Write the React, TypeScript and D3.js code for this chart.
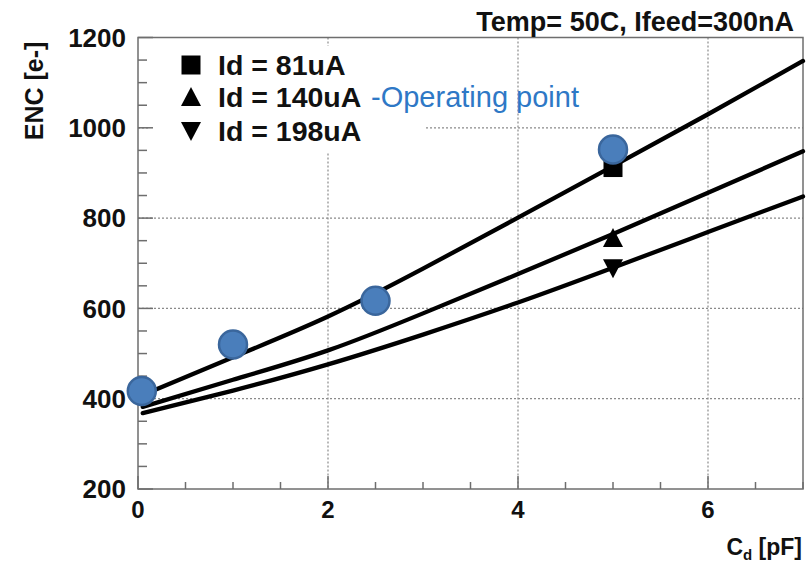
import React from "react";
import * as d3 from "d3";

// ---- data ----
const cdTicks = [0, 2, 4, 6];
const encTicks = [200, 400, 600, 800, 1000, 1200];
const seriesNames = ["Id = 81uA", "Id = 140uA", "Id = 198uA"];
const curveCd = [0.05, 1, 2, 3, 4, 5, 6, 7];
const curve81 = [408, 492, 582, 688, 801, 915, 1030, 1148];
const curve140 = [382, 442, 507, 589, 676, 765, 856, 948];
const curve198 = [368, 418, 476, 542, 613, 690, 769, 848];
const markerCd = [5, 5, 5];
const markerEnc = [912, 756, 689];
const opCd = [0.04, 1, 2.5, 5];
const opEnc = [417, 520, 617, 952];
const titleText = "Temp= 50C, Ifeed=300nA";
const opText = "-Operating point";

const FONT = "'Liberation Sans', Arial, Helvetica, sans-serif";

const x = d3.scaleLinear().domain([0, 7]).range([138, 803]);
const y = d3.scaleLinear().domain([200, 1200]).range([489, 37.5]);

const minorX = d3.range(0, 7.01, 0.5);
const minorY = d3.range(200, 1200.1, 50);

function markerPath(kind: number, cx: number, cy: number): string {
  const h = 10;
  if (kind === 0) return `M${cx - 9.5},${cy - 9.5}h19v19h-19Z`;
  if (kind === 1) return `M${cx - h},${cy + 9}L${cx + h},${cy + 9}L${cx},${cy - 10}Z`;
  return `M${cx - h},${cy - 9}L${cx + h},${cy - 9}L${cx},${cy + 10}Z`;
}

export default function App() {
  const curves = [curve81, curve140, curve198];
  const line = d3
    .line<number>()
    .x((_, i) => x(curveCd[i]))
    .y((d) => y(d))
    .curve(d3.curveNatural);
  const axisColor = "#6e6e6e";
  const gridColor = "#8a8a8a";
  const legendRows = [65, 97, 131];
  return (
    <svg
      width={807}
      height={567}
      style={{ position: "absolute", left: 0, top: 0, background: "#fff" }}
      fontFamily={FONT}
    >
      <rect x={0} y={0} width={807} height={567} fill="#fff" />
      {/* grid */}
      {cdTicks.filter((t) => t > 0).map((t) => (
        <line key={"gx" + t} x1={x(t)} x2={x(t)} y1={y(1200)} y2={y(200)} stroke={gridColor} strokeWidth={1.2} strokeDasharray="2,2" />
      ))}
      {encTicks.filter((t) => t > 200 && t < 1200).map((t) => (
        <line key={"gy" + t} x1={x(0)} x2={x(7)} y1={y(t)} y2={y(t)} stroke={gridColor} strokeWidth={1.2} strokeDasharray="2,2" />
      ))}
      {/* legend background */}
      <rect x={150} y={46} width={275} height={107} fill="#fff" />
      {/* ticks */}
      {minorX.map((t) => {
        const major = cdTicks.includes(t);
        return <line key={"tx" + t} x1={x(t)} x2={x(t)} y1={y(200)} y2={y(200) - (major ? 13 : 7)} stroke={axisColor} strokeWidth={1.5} />;
      })}
      {minorY.map((t) => {
        const major = encTicks.includes(t);
        return <line key={"ty" + t} x1={x(0)} x2={x(0) + (major ? 15 : 9)} y1={y(t)} y2={y(t)} stroke={axisColor} strokeWidth={1.5} />;
      })}
      {/* frame */}
      <rect x={x(0)} y={y(1200)} width={x(7) - x(0)} height={y(200) - y(1200)} fill="none" stroke={axisColor} strokeWidth={1.5} />
      {/* curves */}
      {curves.map((c, i) => (
        <path key={"c" + i} d={line(c) || ""} fill="none" stroke="#000" strokeWidth={4.3} strokeLinecap="round" />
      ))}
      {/* markers */}
      {markerCd.map((c, i) => (
        <path key={"m" + i} d={markerPath(i, x(c), y(markerEnc[i]))} fill="#000" />
      ))}
      {/* operating points */}
      {opCd.map((c, i) => (
        <circle key={"o" + i} cx={x(c)} cy={y(opEnc[i])} r={14} fill="#4a7ebb" stroke="#3a669c" strokeWidth={2.5} />
      ))}
      {/* legend */}
      {seriesNames.map((n, i) => (
        <g key={"l" + i}>
          <path d={markerPath(i, 191, legendRows[i])} fill="#000" />
          <text x={218} y={legendRows[i] + 10} fontSize={28.5} fontWeight="bold" fill="#111">{n}</text>
        </g>
      ))}
      <text x={371} y={legendRows[1] + 10} fontSize={29} fill="#2e78c6">{opText}</text>
      {/* title */}
      <text x={794} y={31} fontSize={27} fontWeight="bold" textAnchor="end" fill="#111">{titleText}</text>
      {/* tick labels */}
      {encTicks.map((t) => (
        <text key={"ly" + t} x={126} y={y(t) + 9.3} fontSize={26} fontWeight="bold" textAnchor="end" fill="#111">{t}</text>
      ))}
      {cdTicks.map((t) => (
        <text key={"lx" + t} x={x(t)} y={518} fontSize={24} fontWeight="bold" textAnchor="middle" fill="#111">{t}</text>
      ))}
      {/* axis titles */}
      <text transform="translate(43,91) rotate(-90)" fontSize={25} fontWeight="bold" textAnchor="middle" fill="#111">ENC [e-]</text>
      <text x={802} y={555} fontSize={23} fontWeight="bold" textAnchor="end" fill="#111">
        C<tspan fontSize={15} dy={5}>d</tspan><tspan dy={-5}> [pF]</tspan>
      </text>
    </svg>
  );
}
